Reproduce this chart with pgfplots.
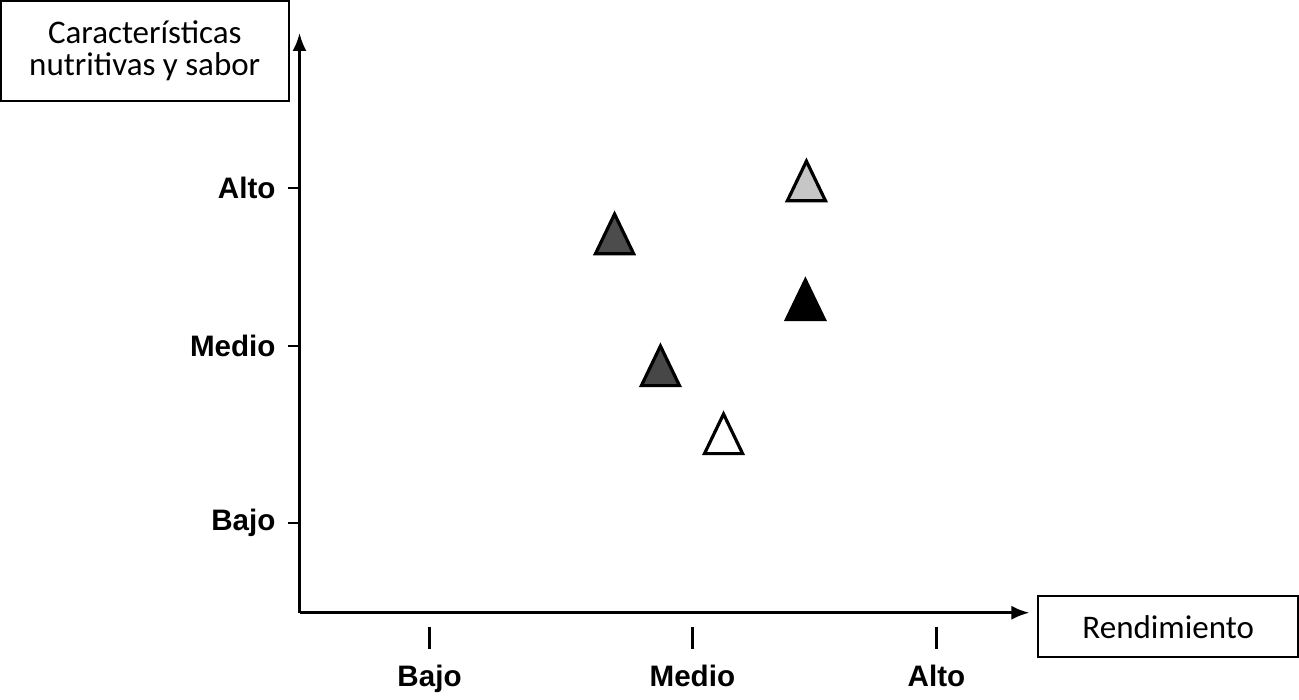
\documentclass[border=0pt]{standalone}
\usepackage{fontspec}
\setmainfont{Liberation Sans}
\newfontfamily\calib{Carlito}
\usepackage{pgfplots}
\pgfplotsset{compat=1.18}
\usetikzlibrary{arrows.meta}
\begin{document}
\begin{tikzpicture}
\begin{axis}[
  x=126.75bp, y=83.75bp,
  xmin=0.487, xmax=3.367, ymin=0.463, ymax=3.925,
  axis lines=left,
  axis line style={line width=1.3bp, -{Latex[length=9bp,width=7bp]}},
  clip=false,
  xtick={1,2.037,3},
  xticklabels={{\rule{1.2bp}{11bp}\\[4bp]Bajo},{\rule{1.2bp}{11bp}\\[4bp]Medio},{\rule{1.2bp}{11bp}\\[4bp]Alto}},
  xticklabel style={align=center, font=\bfseries\fontsize{14.8bp}{15bp}\selectfont, yshift=2.5bp},
  x tick style={draw=none},
  ytick={1,2.057,3},
  yticklabels={Bajo,Medio,Alto},
  yticklabel style={font=\bfseries\fontsize{14.8bp}{18bp}\selectfont, xshift=-2.5bp},
  y tick style={black, line width=1.2bp},
  tick align=outside,
  major tick length=6bp,
]
\addplot[only marks, mark=triangle*, mark size=11bp, mark options={yscale=1.2, draw=black, line width=1.6bp, fill=gray!45}] coordinates {(2.487,3.002)};
\addplot[only marks, mark=triangle*, mark size=11bp, mark options={yscale=1.2, draw=black, line width=1.6bp, fill=black!70}] coordinates {(1.730,2.686)};
\addplot[only marks, mark=triangle*, mark size=11bp, mark options={yscale=1.2, draw=black, line width=1.6bp, fill=black}] coordinates {(2.483,2.292)};
\addplot[only marks, mark=triangle*, mark size=11bp, mark options={yscale=1.2, draw=black, line width=1.6bp, fill=black!72}] coordinates {(1.911,1.898)};
\addplot[only marks, mark=triangle*, mark size=11bp, mark options={yscale=1.2, draw=black, line width=1.6bp, fill=white}] coordinates {(2.160,1.492)};
\node[draw, line width=0.8bp, anchor=north east, minimum width=144bp, minimum height=50bp, align=center,
  font=\calib\fontsize{16.5bp}{16bp}\selectfont, inner sep=2bp]
  at ([xshift=-5bp, yshift=16.5bp]rel axis cs:0,1) {Características\\nutritivas y sabor};
\node[draw, line width=0.8bp, anchor=west, minimum width=130bp, minimum height=30.5bp,
  font=\calib\fontsize{16.5bp}{16bp}\selectfont, inner sep=2bp]
  at ([xshift=4bp, yshift=-7bp]rel axis cs:1,0) {Rendimiento};
\end{axis}
\end{tikzpicture}
\end{document}
